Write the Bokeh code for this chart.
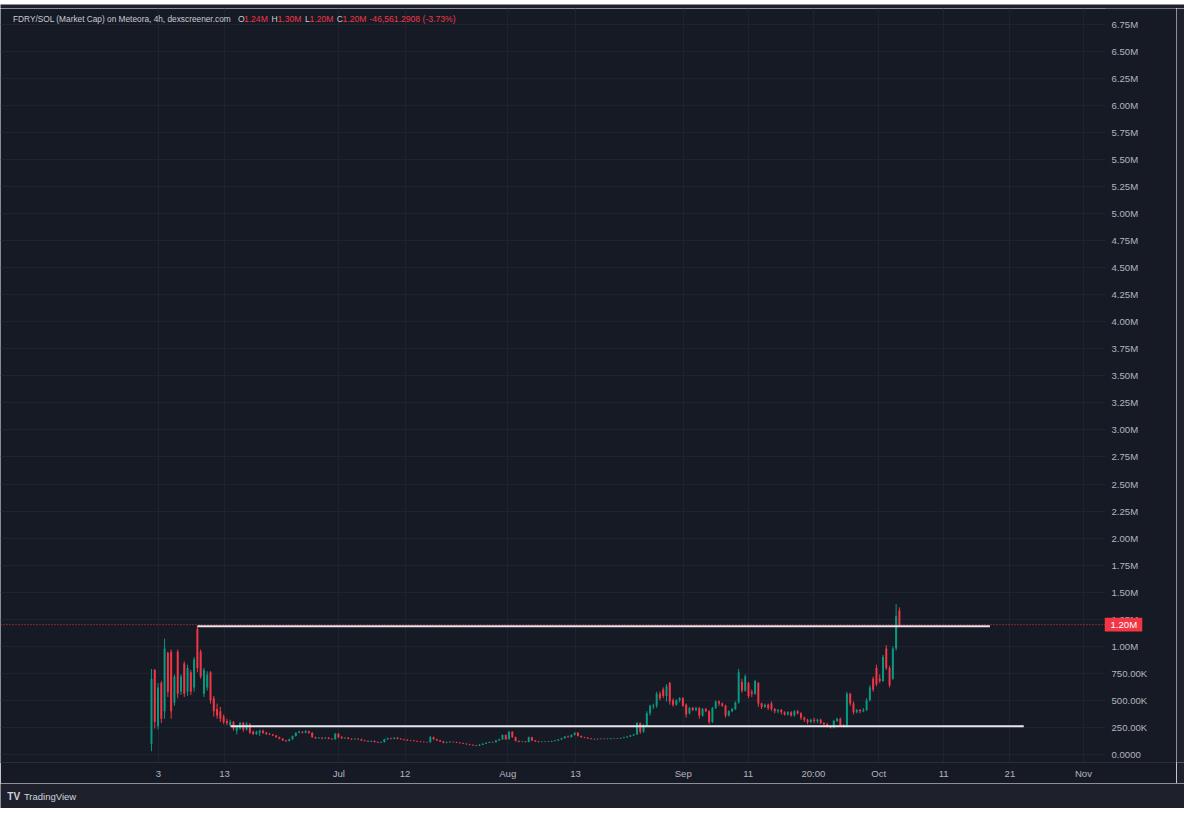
import numpy as np
from bokeh.plotting import figure
from bokeh.models import Range1d, FixedTicker, Label, ColumnDataSource
from bokeh.layouts import column, row
from bokeh.embed import file_html
from bokeh.resources import INLINE
from bokeh.core.properties import value

# ---------------- data (market cap in millions, 12h candles) ----------------
opens = [
    .10, .78, .26, .66, .40, .94, .95, .48, .95, .58,
    .84, .58, .76, .62, 1.16, .95, .56, .62, .76, .52,
    .42, .40, .35, .31, .27, .30, .22, .24, .29, .23,
    .28, .21, .19, .20, .22, .20, .19, .185, .175, .16,
    .145, .13, .125, .14, .17, .20, .21, .20, .215, .20,
    .16, .15, .155, .15, .155, .145, .14, .19, .16, .15,
    .155, .145, .14, .145, .14, .13, .125, .12, .125, .115,
    .11, .115, .14, .15, .145, .155, .145, .14, .135, .13,
    .128, .125, .12, .118, .115, .112, .16, .14, .13, .12,
    .108, .112, .118, .115, .11, .105, .10, .095, .09, .085,
    .08, .09, .10, .108, .115, .112, .13, .14, .18, .14,
    .21, .16, .125, .118, .12, .115, .16, .13, .12, .115,
    .118, .12, .118, .125, .13, .138, .15, .165, .16, .18,
    .20, .17, .16, .155, .148, .142, .14, .145, .142, .145,
    .143, .147, .15, .148, .152, .158, .165, .175, .185, .29,
    .21, .27, .38, .44, .45, .56, .60, .54, .66, .50,
    .46, .50, .52, .46, .38, .43, .41, .43, .36, .42,
    .40, .30, .43, .49, .47, .45, .36, .40, .42, .48,
    .67, .59, .66, .58, .56, .66, .47, .44, .46, .47,
    .42, .40, .41, .39, .37, .39, .36, .40, .38, .34,
    .32, .30, .32, .31, .32, .29, .28, .26, .25, .31,
    .33, .27, .26, .56, .47, .39, .41, .40, .41, .50,
    .70, .80, .70, .68, .98, .80, .70, .98, 1.33,
]
highs = [
    .79, .79, .66, .68, 1.07, .95, .97, .74, .97, .74,
    .86, .83, .78, .90, 1.185, .97, .80, .77, .77, .54,
    .47, .44, .37, .33, .32, .31, .27, .30, .30, .30,
    .29, .22, .22, .23, .23, .21, .20, .19, .18, .165,
    .15, .135, .145, .175, .205, .22, .215, .225, .22, .205,
    .165, .16, .16, .16, .16, .15, .20, .20, .17, .16,
    .16, .15, .15, .15, .145, .135, .13, .13, .13, .12,
    .12, .145, .155, .155, .16, .16, .15, .145, .14, .135,
    .132, .128, .125, .12, .118, .17, .165, .145, .135, .125,
    .118, .122, .12, .118, .112, .108, .103, .098, .093, .088,
    .095, .103, .112, .12, .12, .135, .145, .185, .185, .215,
    .215, .165, .13, .125, .124, .165, .163, .133, .123, .122,
    .124, .123, .128, .133, .142, .155, .17, .175, .185, .205,
    .205, .175, .163, .16, .152, .146, .148, .148, .148, .148,
    .15, .153, .153, .156, .162, .17, .18, .19, .30, .295,
    .28, .40, .46, .47, .58, .58, .62, .65, .67, .52,
    .51, .53, .53, .47, .44, .44, .44, .44, .43, .43,
    .41, .44, .50, .50, .48, .46, .41, .43, .49, .79,
    .70, .74, .67, .60, .69, .67, .48, .47, .47, .49,
    .43, .42, .42, .40, .40, .40, .41, .41, .39, .35,
    .33, .33, .34, .33, .33, .30, .29, .27, .32, .34,
    .34, .28, .58, .57, .49, .42, .42, .43, .52, .64,
    .72, .83, .74, .92, 1.01, .82, 1.00, 1.39, 1.36,
]
lows = [
    .03, .24, .23, .29, .33, .53, .33, .45, .52, .55,
    .53, .54, .55, .58, .76, .70, .53, .59, .47, .35,
    .33, .30, .28, .27, .26, .22, .185, .23, .21, .22,
    .19, .18, .18, .17, .19, .18, .18, .17, .155, .14,
    .125, .115, .12, .135, .165, .195, .195, .195, .19, .155,
    .145, .145, .14, .145, .14, .135, .135, .15, .145, .145,
    .14, .135, .135, .135, .125, .12, .115, .115, .11, .105,
    .105, .11, .135, .14, .14, .14, .135, .13, .125, .122,
    .12, .115, .112, .11, .108, .11, .135, .125, .115, .103,
    .103, .108, .11, .105, .10, .095, .09, .085, .08, .076,
    .078, .087, .097, .105, .108, .11, .125, .135, .135, .138,
    .155, .12, .112, .113, .11, .112, .125, .115, .11, .112,
    .114, .114, .115, .12, .127, .135, .145, .155, .158, .175,
    .165, .155, .15, .143, .138, .135, .137, .138, .139, .14,
    .14, .144, .144, .145, .15, .155, .162, .17, .18, .19,
    .20, .26, .36, .42, .43, .50, .52, .49, .46, .44,
    .45, .48, .44, .34, .37, .40, .40, .33, .35, .39,
    .28, .29, .42, .45, .44, .34, .35, .39, .41, .47,
    .57, .58, .52, .53, .55, .44, .42, .43, .41, .40,
    .38, .38, .37, .36, .36, .35, .35, .37, .32, .30,
    .28, .29, .29, .29, .28, .26, .25, .24, .24, .30,
    .26, .25, .25, .45, .37, .38, .38, .39, .40, .49,
    .58, .63, .66, .67, .78, .62, .69, .96, 1.19,
]
closes = [
    .70, .30, .62, .33, .98, .58, .40, .72, .56, .72,
    .56, .80, .58, .88, .80, .72, .78, .74, .50, .40,
    .36, .33, .30, .29, .30, .24, .26, .29, .23, .28,
    .20, .19, .21, .22, .20, .19, .185, .175, .16, .145,
    .13, .125, .14, .17, .20, .21, .20, .215, .20, .16,
    .15, .155, .15, .155, .145, .14, .19, .16, .15, .155,
    .145, .14, .145, .14, .13, .125, .12, .125, .115, .11,
    .115, .14, .15, .145, .155, .145, .14, .135, .13, .128,
    .125, .12, .118, .115, .112, .16, .14, .13, .12, .108,
    .112, .118, .115, .11, .105, .10, .095, .09, .085, .08,
    .09, .10, .108, .115, .112, .13, .14, .18, .14, .21,
    .16, .125, .118, .12, .115, .16, .13, .12, .115, .118,
    .12, .118, .125, .13, .138, .15, .165, .16, .18, .20,
    .17, .16, .155, .148, .142, .14, .145, .142, .145, .143,
    .147, .15, .148, .152, .158, .165, .175, .185, .29, .21,
    .27, .38, .45, .45, .56, .52, .54, .63, .49, .46,
    .50, .52, .45, .37, .43, .41, .43, .36, .42, .40,
    .30, .43, .49, .47, .45, .36, .40, .42, .48, .76,
    .59, .72, .54, .56, .68, .47, .44, .46, .43, .42,
    .40, .41, .39, .37, .39, .36, .40, .38, .34, .32,
    .30, .32, .31, .32, .29, .28, .26, .25, .31, .33,
    .27, .26, .56, .47, .39, .41, .40, .41, .50, .62,
    .60, .65, .68, .90, .80, .64, .98, 1.28, 1.20,
]

# drawn horizontal levels (millions) and their bar-index extents
level_values = [1.185, 0.26]
level_start = [14.0, 24.1]
level_end = [255.6, 265.9]
last_price = 1.20
last_price_label = "1.20M"

# time axis: bar-index positions and labels
x_tick_pos = [2.1, 22.3, 57.1, 77.3, 108.6, 129.3, 162.1, 181.9, 201.8, 221.7, 241.5, 261.7, 284.1]
x_tick_labels = ["3", "13", "Jul", "12", "Aug", "13", "Sep", "11", "20:00", "Oct", "11", "21", "Nov"]

y_tick_labels = ["0.0000", "250.00K", "500.00K", "750.00K", "1.00M", "1.25M", "1.50M", "1.75M",
                 "2.00M", "2.25M", "2.50M", "2.75M", "3.00M", "3.25M", "3.50M", "3.75M", "4.00M",
                 "4.25M", "4.50M", "4.75M", "5.00M", "5.25M", "5.50M", "5.75M", "6.00M", "6.25M",
                 "6.50M", "6.75M"]

legend_parts = ["FDRY/SOL (Market Cap) on Meteora, 4h, dexscreener.com", "O", "1.24M", "H", "1.30M",
                "L", "1.20M", "C", "1.20M", "-46,561.2908 (-3.73%)"]

# ---------------- styling / layout constants ----------------
BG = "#161a25"
OUTER = "#1e212b"
GRID = "#1f2330"
UP = "#089981"
DOWN = "#f23645"
TXT = "#b2b5be"
FONT = "Liberation Sans"

X_START, PANE_END, X_END = -46.02, 290.83, 312.47   # bar-index at left edge, price-scale edge, right edge
Y_START, Y_END = -74500, 6896600
PX = (PANE_END - X_START) / 1105.0                  # bar-index units per screen pixel

M = 1e6
o = np.array(opens) * M
h = np.array(highs) * M
l = np.array(lows) * M
c = np.array(closes) * M
x = np.arange(len(opens))
up = c >= o

p = figure(width=1176, height=775,
           x_range=Range1d(X_START, X_END), y_range=Range1d(Y_START, Y_END),
           output_backend="svg", toolbar_location=None, y_axis_location="right",
           min_border_left=0, min_border_right=0, min_border_top=0, min_border_bottom=21,
           background_fill_color=BG, border_fill_color=BG, outline_line_color=None)
p.grid.level = "image"
p.grid.grid_line_color = GRID

for mask, col in ((up, UP), (~up, DOWN)):
    src = ColumnDataSource(dict(x=x[mask], h=h[mask], l=l[mask],
                                top=np.maximum(o, c)[mask], bottom=np.minimum(o, c)[mask]))
    p.segment(x0="x", y0="l", x1="x", y1="h", source=src, line_color=col, line_width=1)
    p.vbar(x="x", width=0.6, top="top", bottom="bottom", source=src,
           fill_color=col, line_color=None)

# drawn levels
p.segment(x0=level_start, y0=[v * M for v in level_values],
          x1=level_end, y1=[v * M for v in level_values],
          line_color="#e6e8ee", line_width=2)

# last price dotted line across the pane
p.segment(x0=[X_START], y0=[last_price * M], x1=[PANE_END], y1=[last_price * M],
          line_color=DOWN, line_width=1, line_dash="1 2")

# price-scale area background (hides grid lines there)
p.quad(left=[PANE_END], right=[X_END + 5], bottom=[Y_START], top=[Y_END],
       fill_color=BG, line_color=None, level="underlay")

# axes
y_tick_vals = [250000 * k for k in range(len(y_tick_labels))]
yax = p.yaxis[0]
xax = p.xaxis[0]
yax.ticker = FixedTicker(ticks=y_tick_vals)
yax.major_label_overrides = dict(zip(y_tick_vals, y_tick_labels))
yax.fixed_location = PANE_END
xax.ticker = FixedTicker(ticks=x_tick_pos)
xax.major_label_overrides = dict(zip(x_tick_pos, x_tick_labels))
for ax in (xax, yax):
    ax.major_tick_line_color = None
    ax.minor_tick_line_color = None
    ax.major_tick_out = 0
    ax.major_tick_in = 0
    ax.minor_tick_out = 0
    ax.minor_tick_in = 0
    ax.major_label_text_color = TXT
    ax.major_label_text_font = FONT
    ax.major_label_text_font_size = "9.6px"
yax.axis_line_color = None
xax.axis_line_color = "#2a2e39"
yax.major_label_standoff = 6
xax.major_label_standoff = 5

# last-price tag on the scale
p.rect(x=[PANE_END + 18 * PX], y=[last_price * M], width=37.5, height=13.7,
       width_units="screen", height_units="screen", fill_color=DOWN, line_color=None,
       level="overlay")
p.text(x=[PANE_END + 5 * PX], y=[last_price * M], text=[last_price_label],
       text_color="white", text_font=value(FONT), text_font_size="9.6px",
       text_baseline="middle", text_align="left", level="overlay")

# legend line at the top
legend_x = [12.5, 237.5, 243.4, 271.0, 277.0, 304.6, 309.1, 336.2, 342.1, 369.0]
legend_col = ["#c9ccd4", "#c9ccd4", DOWN, "#c9ccd4", DOWN, "#c9ccd4", DOWN, "#c9ccd4", DOWN, DOWN]
legend_size = ["8.3px"] + ["8.6px"] * 9
for txt, lx, lc, ls in zip(legend_parts, legend_x, legend_col, legend_size):
    p.add_layout(Label(x=lx, y=744, x_units="screen", y_units="screen", text=txt,
                       text_color=lc, text_font=FONT,
                       text_font_size=ls, text_baseline="middle", text_align="left"))


def strip(w, hgt):
    s = figure(width=w, height=hgt, x_range=Range1d(0, w), y_range=Range1d(0, hgt),
               output_backend="svg", toolbar_location=None, x_axis_type=None, y_axis_type=None,
               min_border=0, background_fill_color=OUTER, border_fill_color=OUTER,
               outline_line_color=None)
    s.grid.visible = False
    return s


top = strip(1184, 8)
side = strip(8, 775)
foot = strip(1184, 25)
foot.add_layout(Label(x=6.8, y=12, text="TV", text_color="#d1d4dc", text_font=FONT,
                      text_font_size="10px", text_font_style="bold", text_baseline="middle"))
foot.add_layout(Label(x=23.4, y=12, text="TradingView", text_color="#d1d4dc",
                      text_font=FONT, text_font_size="9.5px", text_baseline="middle"))

layout = column(top, row(p, side, spacing=0), foot, spacing=0)
html = file_html(layout, INLINE)
html = html.replace("<body>", '<body style="background-color:%s;">' % BG, 1)
open("out.html", "w").write(html)
